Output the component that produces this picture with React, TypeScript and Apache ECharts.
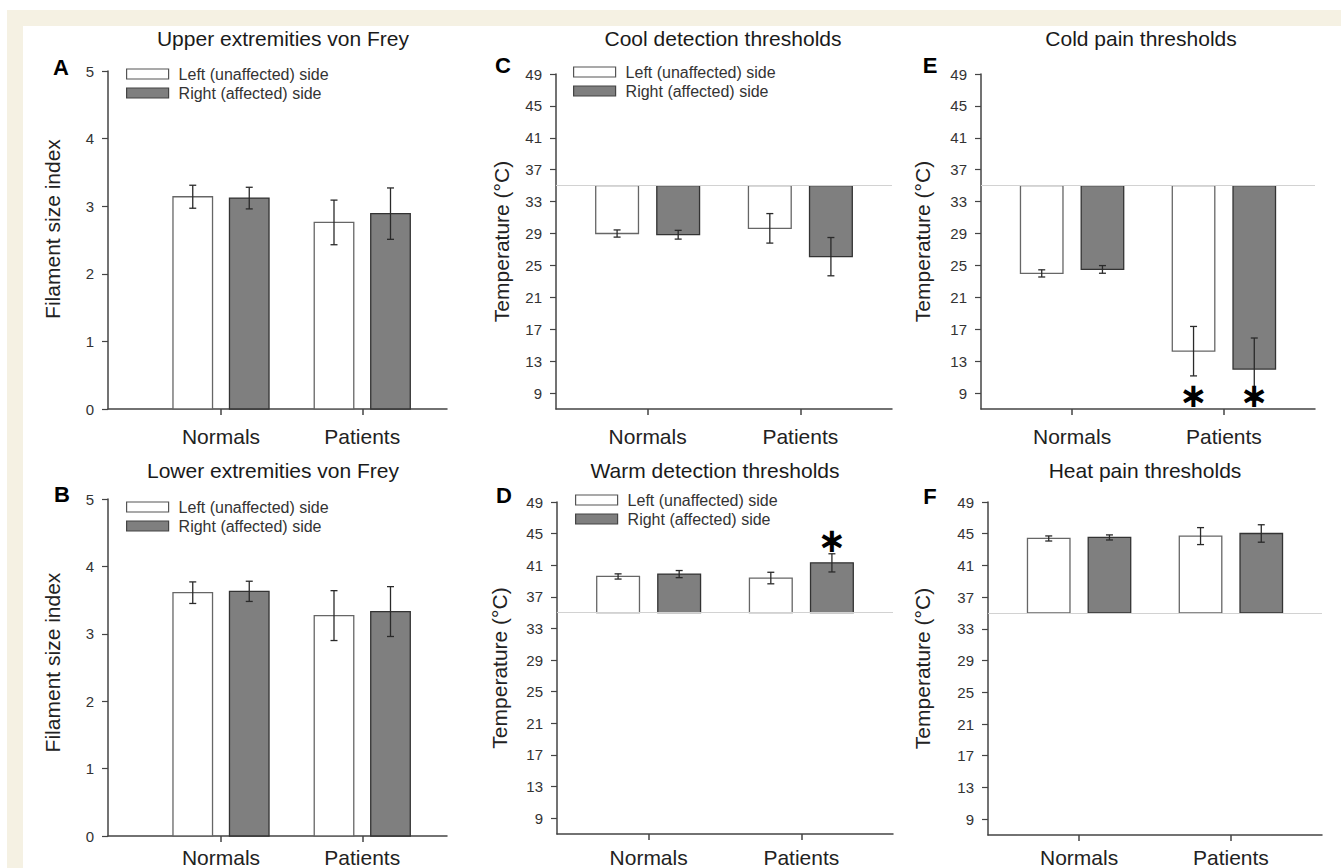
import React, { useEffect, useRef } from 'react';
import * as echarts from 'echarts';

const groups = ['Normals', 'Patients'];
const sideNames = ['Left (unaffected) side', 'Right (affected) side'];
const tempTicks = [9, 13, 17, 21, 25, 29, 33, 37, 41, 45, 49];

// Upper extremities von Frey
const upperLeft = [3.14, 2.76];
const upperLeftErr = [0.17, 0.33];
const upperRight = [3.12, 2.89];
const upperRightErr = [0.16, 0.38];
// Lower extremities von Frey
const lowerLeft = [3.61, 3.27];
const lowerLeftErr = [0.16, 0.37];
const lowerRight = [3.63, 3.33];
const lowerRightErr = [0.15, 0.37];
// Cool detection thresholds
const coolLeft = [29.0, 29.65];
const coolLeftErr = [0.45, 1.85];
const coolRight = [28.85, 26.1];
const coolRightErr = [0.55, 2.4];
// Warm detection thresholds
const warmLeft = [39.58, 39.38];
const warmLeftErr = [0.33, 0.73];
const warmRight = [39.88, 41.3];
const warmRightErr = [0.45, 1.15];
const warmRightStar = [0, 44.2];
// Cold pain thresholds
const coldLeft = [24.0, 14.25];
const coldLeftErr = [0.45, 3.1];
const coldLeftStar = [0, 8.8];
const coldRight = [24.5, 12.0];
const coldRightErr = [0.48, 3.9];
const coldRightStar = [0, 8.7];
// Heat pain thresholds
const heatLeft = [44.4, 44.7];
const heatLeftErr = [0.32, 1.07];
const heatRight = [44.53, 45.03];
const heatRightErr = [0.32, 1.1];

const noStar = [0, 0];
const FONT = '"Liberation Sans", Arial, Helvetica, sans-serif';
const BW = 0.28;
const OFF = 0.2;

type Panel = {
  title: string; letter: string; yName: string;
  left: number; top: number; width: number; height: number;
  xMin: number; yMin: number; yMax: number; base: number; temp: boolean;
  vals: number[][]; errs: number[][]; stars: number[][];
  legend?: { left: number; top: number };
  titleX: number; titleY: number; letterX: number; letterY: number; nameGap: number; namePad: number; labelMargin: number;
};

const panels: Panel[] = [
  { title: 'Upper extremities von Frey', letter: 'A', yName: 'Filament size index', left: 108, top: 71, width: 339, height: 338,
    xMin: 0.2, yMin: 0, yMax: 5, base: 0, temp: false, vals: [upperLeft, upperRight], errs: [upperLeftErr, upperRightErr], stars: [noStar, noStar],
    legend: { left: 126, top: 66 }, titleX: 283, titleY: 38, letterX: 61, letterY: 67, nameGap: 45, namePad: 22, labelMargin: 17 },
  { title: 'Lower extremities von Frey', letter: 'B', yName: 'Filament size index', left: 108, top: 499, width: 339, height: 339,
    xMin: 0.2, yMin: 0, yMax: 5, base: 0, temp: false, vals: [lowerLeft, lowerRight], errs: [lowerLeftErr, lowerRightErr], stars: [noStar, noStar],
    legend: { left: 126, top: 499 }, titleX: 273, titleY: 470, letterX: 62, letterY: 494, nameGap: 45, namePad: 10, labelMargin: 11 },
  { title: 'Cool detection thresholds', letter: 'C', yName: 'Temperature (°C)', left: 556, top: 74, width: 336, height: 335,
    xMin: 0.4, yMin: 7, yMax: 49, base: 35, temp: true, vals: [coolLeft, coolRight], errs: [coolLeftErr, coolRightErr], stars: [noStar, noStar],
    legend: { left: 573, top: 64 }, titleX: 723, titleY: 38, letterX: 503, letterY: 65, nameGap: 44, namePad: 0, labelMargin: 17 },
  { title: 'Warm detection thresholds', letter: 'D', yName: 'Temperature (°C)', left: 557, top: 502, width: 336, height: 334,
    xMin: 0.4, yMin: 7, yMax: 49, base: 35, temp: true, vals: [warmLeft, warmRight], errs: [warmLeftErr, warmRightErr], stars: [noStar, warmRightStar],
    legend: { left: 575, top: 492 }, titleX: 715, titleY: 470, letterX: 504, letterY: 495, nameGap: 47, namePad: 0, labelMargin: 13 },
  { title: 'Cold pain thresholds', letter: 'E', yName: 'Temperature (°C)', left: 981, top: 74, width: 334, height: 335,
    xMin: 0.4, yMin: 7, yMax: 49, base: 35, temp: true, vals: [coldLeft, coldRight], errs: [coldLeftErr, coldRightErr], stars: [coldLeftStar, coldRightStar],
    titleX: 1141, titleY: 38, letterX: 930, letterY: 65, nameGap: 48, namePad: 0, labelMargin: 17 },
  { title: 'Heat pain thresholds', letter: 'F', yName: 'Temperature (°C)', left: 988, top: 502, width: 334, height: 334,
    xMin: 0.4, yMin: 7, yMax: 49, base: 35, temp: true, vals: [heatLeft, heatRight], errs: [heatLeftErr, heatRightErr], stars: [noStar, noStar],
    titleX: 1145, titleY: 470, letterX: 930, letterY: 496, nameGap: 55, namePad: 0, labelMargin: 12 },
];

const sideStyle = [
  { fill: '#ffffff', stroke: '#666666' },
  { fill: '#7f7f7f', stroke: '#333333' },
];

function buildOption() {
  const grid: any[] = [];
  const xAxis: any[] = [];
  const yAxis: any[] = [];
  const series: any[] = [];
  const legend: any[] = [];
  const graphic: any[] = [
    { type: 'rect', silent: true, shape: { x: 7, y: 10, width: 1334, height: 16 }, style: { fill: '#f5f1e3' } },
    { type: 'rect', silent: true, shape: { x: 7, y: 10, width: 16, height: 858 }, style: { fill: '#f5f1e3' } },
  ];

  panels.forEach((p, i) => {
    grid.push({ left: p.left, top: p.top, width: p.width, height: p.height });
    xAxis.push({
      type: 'value', gridIndex: i, min: p.xMin, max: 2.6,
      axisLine: { show: true, onZero: false, lineStyle: { color: '#444', width: 1.5 } },
      axisTick: { show: true, customValues: [1, 2], length: 6, lineStyle: { color: '#444', width: 1.5 } },
      axisLabel: { show: true, customValues: [1, 2], margin: p.labelMargin, fontSize: 21, fontFamily: FONT, color: '#222',
        formatter: (v: number) => groups[Math.round(v) - 1] ?? '' },
      splitLine: { show: false },
    });
    const yTicks = p.temp ? tempTicks : undefined;
    yAxis.push({
      type: 'value', gridIndex: i, min: p.yMin, max: p.yMax,
      ...(p.temp ? {} : { interval: 1 }),
      name: p.yName, nameLocation: 'middle', nameGap: p.nameGap, nameRotate: 90,
      nameTextStyle: { fontSize: 21, fontFamily: FONT, color: '#222', padding: [0, 0, 0, p.namePad] },
      axisLine: { show: true, lineStyle: { color: '#444', width: 1.5 } },
      axisTick: { show: true, length: 6, lineStyle: { color: '#444', width: 1.2 }, ...(yTicks ? { customValues: yTicks } : {}) },
      axisLabel: { margin: 14, fontSize: 15, fontFamily: FONT, color: '#333', ...(yTicks ? { customValues: yTicks } : {}) },
      splitLine: { show: false },
    });

    [0, 1].forEach((s) => {
      const off = s === 0 ? -OFF : OFF;
      const st = sideStyle[s];
      const base = p.base;
      const data = groups.map((_, g) => [g + 1, p.vals[s][g], p.errs[s][g], p.stars[s][g]]);
      const ser: any = {
        type: 'custom', name: sideNames[s], xAxisIndex: i, yAxisIndex: i,
        encode: { x: 0, y: 1 }, data, z: 3,
        itemStyle: { color: st.fill, borderColor: st.stroke },
        renderItem: (params: any, api: any) => {
          const gx = api.value(0) + off;
          const v = api.value(1);
          const e = api.value(2);
          const star = api.value(3);
          const a = api.coord([gx - BW / 2, base]);
          const b = api.coord([gx + BW / 2, v]);
          const tp = api.coord([gx, v + e]);
          const bt = api.coord([gx, v - e]);
          const cx = (a[0] + b[0]) / 2;
          const cap = 3.5;
          const children: any[] = [
            { type: 'rect', shape: { x: Math.min(a[0], b[0]), y: Math.min(a[1], b[1]), width: Math.abs(b[0] - a[0]), height: Math.abs(b[1] - a[1]) },
              style: { fill: st.fill, stroke: st.stroke, lineWidth: 1.3 } },
            { type: 'line', shape: { x1: cx, y1: tp[1], x2: cx, y2: bt[1] }, style: { stroke: '#2a2a2a', lineWidth: 1.3 } },
            { type: 'line', shape: { x1: cx - cap, y1: tp[1], x2: cx + cap, y2: tp[1] }, style: { stroke: '#2a2a2a', lineWidth: 1.3 } },
            { type: 'line', shape: { x1: cx - cap, y1: bt[1], x2: cx + cap, y2: bt[1] }, style: { stroke: '#2a2a2a', lineWidth: 1.3 } },
          ];
          if (star > 0) {
            const sp = api.coord([gx, star]);
            children.push({ type: 'text', x: sp[0], y: sp[1],
              style: { text: '\u2217', fontSize: 34, fontWeight: 'bold', fontFamily: '"DejaVu Sans", sans-serif', fill: '#000', align: 'center', verticalAlign: 'middle' } });
          }
          return { type: 'group', children };
        },
      };
      if (p.temp && s === 0) {
        ser.markLine = {
          silent: true, symbol: ['none', 'none'], label: { show: false },
          lineStyle: { color: '#d2d2d2', width: 1.2, type: 'solid' },
          data: [{ yAxis: 35 }],
        };
      }
      series.push(ser);
    });

    if (p.legend) {
      legend.push({
        orient: 'vertical', left: p.legend.left, top: p.legend.top, padding: 0,
        itemWidth: 42, itemHeight: 10, itemGap: 3, selectedMode: false,
        textStyle: { fontSize: 16, fontFamily: FONT, color: '#333', padding: [0, 0, 0, 5] },
        data: [
          { name: sideNames[0], icon: 'rect', itemStyle: { color: '#ffffff', borderColor: '#555', borderWidth: 1.2 } },
          { name: sideNames[1], icon: 'rect', itemStyle: { color: '#7f7f7f', borderColor: '#444', borderWidth: 1.2 } },
        ],
      });
    }

    graphic.push({ type: 'text', x: p.titleX, y: p.titleY, silent: true,
      style: { text: p.title, fontSize: 21, fontFamily: FONT, fill: '#1a1a1a', align: 'center', verticalAlign: 'middle' } });
    graphic.push({ type: 'text', x: p.letterX, y: p.letterY, silent: true,
      style: { text: p.letter, fontSize: 22, fontWeight: 'bold', fontFamily: FONT, fill: '#000', align: 'center', verticalAlign: 'middle' } });
  });

  return {
    animation: false,
    backgroundColor: '#ffffff',
    textStyle: { fontFamily: FONT },
    grid, xAxis, yAxis, series, legend, graphic,
  };
}

export default function App() {
  const ref = useRef<HTMLDivElement>(null);
  useEffect(() => {
    if (!ref.current) return;
    const chart = echarts.init(ref.current, undefined, { renderer: 'svg' });
    chart.setOption(buildOption());
    return () => chart.dispose();
  }, []);
  return <div ref={ref} style={{ position: 'absolute', left: 0, top: 0, width: 1341, height: 868 }} />;
}
